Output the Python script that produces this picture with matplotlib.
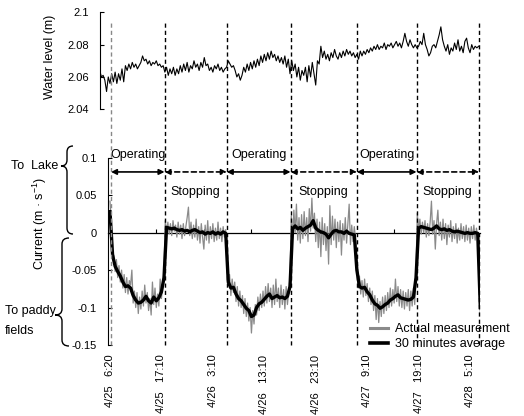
import numpy as np
import matplotlib
matplotlib.use('Agg')
import matplotlib.pyplot as plt
from matplotlib.path import Path
from matplotlib.patches import PathPatch
from matplotlib.lines import Line2D
from matplotlib.transforms import blended_transform_factory
from matplotlib.ticker import FormatStrFormatter

plt.rcParams['font.family'] = ['Liberation Sans', 'DejaVu Sans']
plt.rcParams['mathtext.fontset'] = 'custom'
plt.rcParams['mathtext.rm'] = 'Liberation Sans'

# water level (m), every 20 min from 2 h before 4/25 6:20
level = [
    2.064, 2.060, 2.061, 2.058, 2.051, 2.060, 2.056, 2.062, 2.057, 2.063, 2.056, 2.062,
    2.058, 2.065, 2.057, 2.067, 2.064, 2.068, 2.065, 2.069, 2.066, 2.068, 2.065, 2.067,
    2.069, 2.073, 2.070, 2.071, 2.068, 2.070, 2.067, 2.069, 2.068, 2.070, 2.067, 2.068,
    2.066, 2.067, 2.063, 2.066, 2.061, 2.065, 2.062, 2.066, 2.061, 2.065, 2.062, 2.067,
    2.063, 2.068, 2.064, 2.069, 2.063, 2.067, 2.065, 2.070, 2.066, 2.068, 2.064, 2.069,
    2.066, 2.072, 2.067, 2.068, 2.064, 2.066, 2.063, 2.067, 2.065, 2.068, 2.064, 2.066,
    2.063, 2.065, 2.066, 2.070, 2.068, 2.066, 2.067, 2.064, 2.060, 2.062, 2.058, 2.061,
    2.066, 2.063, 2.068, 2.064, 2.069, 2.065, 2.070, 2.066, 2.071, 2.067, 2.073, 2.069,
    2.074, 2.070, 2.075, 2.071, 2.076, 2.072, 2.074, 2.070, 2.073, 2.069, 2.072, 2.068,
    2.073, 2.066, 2.071, 2.062, 2.070, 2.064, 2.068, 2.060, 2.066, 2.058, 2.064, 2.061,
    2.066, 2.057, 2.067, 2.060, 2.069, 2.062, 2.055, 2.070, 2.068, 2.079, 2.072, 2.076,
    2.071, 2.074, 2.070, 2.075, 2.072, 2.077, 2.073, 2.071, 2.075, 2.072, 2.076, 2.073,
    2.077, 2.074, 2.076, 2.073, 2.075, 2.072, 2.074, 2.071, 2.076, 2.073, 2.076, 2.074,
    2.077, 2.075, 2.078, 2.076, 2.079, 2.077, 2.080, 2.077, 2.079, 2.078, 2.081, 2.077,
    2.080, 2.079, 2.081, 2.078, 2.080, 2.082, 2.079, 2.081, 2.078, 2.082, 2.087, 2.082,
    2.079, 2.083, 2.080, 2.078, 2.080, 2.078, 2.079, 2.082, 2.080, 2.087, 2.080, 2.077,
    2.073, 2.075, 2.079, 2.080, 2.078, 2.082, 2.086, 2.091, 2.083, 2.079, 2.076, 2.080,
    2.074, 2.078, 2.076, 2.081, 2.077, 2.083, 2.076, 2.079, 2.075, 2.082, 2.084, 2.078,
    2.075, 2.080, 2.077, 2.079, 2.078, 2.079,
]

# current (m/s), actual measurement every 15 min from 4/25 6:20
current = [
    # operating
    0.042, 0.010, -0.036, -0.030, -0.052, -0.036, -0.060, -0.044, -0.066, -0.050, -0.074, -0.056,
    -0.080, -0.060, -0.082, -0.064, -0.070, -0.050, -0.094, -0.078, -0.100, -0.080, -0.108, -0.086,
    -0.102, -0.078, -0.098, -0.070, -0.094, -0.080, -0.104, -0.088, -0.110, -0.066, -0.096, -0.074,
    -0.100, -0.082, -0.098, -0.062, -0.088, -0.070, -0.052,
    # stopping
    0.016, 0.000, 0.014, -0.002, 0.012, -0.004, 0.016, 0.002, 0.010, -0.006, 0.014, -0.002,
    0.010, -0.008, 0.012, -0.004, 0.008, 0.020, 0.034, -0.004, 0.014, -0.008, 0.010, -0.006,
    0.018, -0.010, 0.008, -0.014, 0.012, -0.006, -0.022, 0.010, -0.010, 0.016, -0.014, 0.008,
    -0.008, 0.012, -0.012, 0.006, -0.010, 0.014, -0.008, 0.006, -0.012, 0.008, -0.006, 0.004,
    # operating
    -0.050, -0.070, -0.056, -0.084, -0.062, -0.080, -0.066, -0.092, -0.072, -0.098, -0.078, -0.100,
    -0.084, -0.108, -0.088, -0.112, -0.094, -0.118, -0.100, -0.134, -0.104, -0.122, -0.096, -0.110,
    -0.086, -0.104, -0.082, -0.100, -0.078, -0.098, -0.072, -0.094, -0.068, -0.092, -0.074, -0.100,
    -0.070, -0.096, -0.062, -0.092, -0.074, -0.100, -0.070, -0.096, -0.076, -0.102, -0.072, -0.096,
    -0.078, -0.060,
    # stopping
    0.022, -0.008, 0.030, 0.000, 0.038, -0.010, 0.020, -0.014, 0.024, -0.008, 0.028, -0.004,
    0.020, -0.012, 0.032, 0.002, 0.046, 0.006, 0.026, -0.012, 0.018, -0.020, 0.014, -0.032,
    0.020, -0.016, 0.012, -0.024, 0.008, -0.042, 0.036, -0.016, 0.022, -0.010, 0.018, -0.020,
    0.014, -0.012, 0.016, -0.030, 0.012, -0.010, 0.020, -0.014, 0.012, 0.038, -0.016, 0.010,
    -0.012, 0.008, -0.010,
    # operating
    -0.036, -0.074, -0.058, -0.082, -0.064, -0.086, -0.062, -0.084, -0.068, -0.092, -0.074, -0.096,
    -0.078, -0.104, -0.084, -0.116, -0.088, -0.120, -0.092, -0.112, -0.086, -0.108, -0.084, -0.104,
    -0.080, -0.100, -0.074, -0.098, -0.076, -0.094, -0.062, -0.092, -0.072, -0.098, -0.076, -0.100,
    -0.078, -0.102, -0.080, -0.098, -0.076, -0.104, -0.078, -0.098, -0.074, -0.096, -0.050,
    # stopping
    0.026, 0.002, 0.018, -0.002, 0.014, 0.000, 0.016, -0.006, 0.012, -0.004, 0.014, 0.042,
    -0.002, 0.016, -0.022, 0.012, 0.030, -0.004, 0.014, -0.010, 0.018, -0.008, 0.012, -0.016,
    0.010, -0.006, 0.016, -0.012, 0.008, -0.008, 0.012, -0.014, 0.006, -0.010, 0.012, -0.008,
    0.008, -0.012, 0.010, -0.010, 0.006, -0.014, 0.008, -0.008, 0.010, -0.010, 0.006, -0.006,
    -0.030,
    # operating
    -0.108,
]

# 30 minutes average (m/s), every 30 min from 4/25 6:20
current_avg = [
    0.028, -0.030, -0.045, -0.052, -0.058, -0.066, -0.072, -0.071, -0.074, -0.084, -0.090, -0.094,
    -0.093, -0.090, -0.085, -0.091, -0.094, -0.086, -0.091, -0.087, -0.079, -0.060,
    0.007, 0.006, 0.005, 0.006, 0.004, 0.003, 0.004, 0.002, 0.003, 0.001, 0.003, 0.004,
    0.002, 0.000, 0.001, -0.002, 0.000, -0.001, 0.001, -0.002, 0.000, -0.002, 0.001, -0.001,
    -0.066, -0.074, -0.073, -0.082, -0.088, -0.091, -0.096, -0.101, -0.104, -0.112, -0.110, -0.100,
    -0.095, -0.093, -0.089, -0.085, -0.082, -0.088, -0.086, -0.084, -0.087, -0.086, -0.088, -0.085,
    -0.072,
    0.005, 0.009, 0.005, 0.007, 0.003, 0.006, 0.008, 0.010, 0.016, 0.006, 0.003, 0.001,
    0.000, -0.002, -0.007, -0.002, 0.002, 0.003, 0.001, 0.001, -0.001, 0.002, -0.001, -0.002,
    -0.003,
    -0.050, -0.072, -0.074, -0.073, -0.079, -0.083, -0.090, -0.095, -0.097, -0.101, -0.099, -0.096,
    -0.094, -0.090, -0.088, -0.085, -0.083, -0.087, -0.088, -0.089, -0.090, -0.089, -0.086, -0.060,
    0.006, 0.008, 0.007, 0.006, 0.005, 0.004, 0.006, 0.009, 0.005, 0.004, 0.005, 0.003,
    0.004, 0.002, 0.001, 0.002, 0.001, 0.000, -0.001, 0.000, -0.001, -0.001, 0.000, -0.001,
    -0.100,
]

# gate switching times (hours after 4/25 6:20)
gate_times = [0.2, 10.6, 22.7, 35.1, 48.0, 59.6, 71.75]
gate_states = ['Operating', 'Stopping', 'Operating', 'Stopping', 'Operating', 'Stopping']

x_ticks = [0, 10, 20, 30, 40, 50, 60, 70]
x_labels = ['4/25   6:20', '4/25   17:10', '4/26   3:10', '4/26   13:10',
            '4/26   23:10', '4/27   9:10', '4/27   19:10', '4/28   5:10']
zero_ticks = [8.9, 18.2, 27.4, 36.7, 45.9, 55.2, 64.4]

t_level = np.arange(len(level)) / 3 - 2
t_cur = np.arange(len(current)) / 4
t_avg = np.arange(len(current_avg)) / 2

W, H = 524, 416
fig = plt.figure(figsize=(W / 100, H / 100), dpi=100)

# upper: water level
ax1 = fig.add_axes([99.7 / W, 1 - 109.3 / H, 380.6 / W, 97 / H])
ax1.plot(t_level, level, color='black', lw=0.8)
ax1.set_xlim(-2.0, 72.0)
ax1.set_ylim(2.04, 2.1)
ax1.set_yticks([2.04, 2.06, 2.08, 2.1])
ax1.yaxis.set_major_formatter(FormatStrFormatter('%g'))
ax1.set_xticks([])
for s in ['top', 'right', 'bottom']:
    ax1.spines[s].set_visible(False)
ax1.tick_params(axis='y', direction='in', length=3, labelsize=8, pad=8)
fig.text(50 / W, 1 - 57 / H, 'Water level (m)', rotation=90, ha='center', va='center', fontsize=9)

# lower: current
ax2 = fig.add_axes([108 / W, 1 - 345 / H, 372.3 / W, 187.3 / H])
l_act, = ax2.plot(t_cur, current, color='#8a8a8a', lw=0.9)
l_avg, = ax2.plot(t_avg, current_avg, color='black', lw=2.4)
ax2.set_xlim(-0.39, 72.0)
ax2.set_ylim(-0.15, 0.1)
ax2.set_yticks([-0.15, -0.1, -0.05, 0, 0.05, 0.1])
ax2.yaxis.set_major_formatter(FormatStrFormatter('%g'))
ax2.set_xticks(x_ticks)
ax2.set_xticklabels(x_labels, rotation=90, va='top', ha='center')
for s in ['top', 'right', 'bottom']:
    ax2.spines[s].set_visible(False)
ax2.tick_params(axis='y', direction='in', length=3, labelsize=8, pad=8)
ax2.tick_params(axis='x', length=0, labelsize=8, pad=7)

zax = ax2.secondary_xaxis(0.6)
zax.set_xticks(zero_ticks)
zax.tick_params(direction='out', length=3, labeltop=False, labelbottom=False)
for s in zax.spines.values():
    s.set_linewidth(0.9)

fig.text(40 / W, 1 - 224 / H, 'Current (m · s$^{\\mathrm{-1}}$)', rotation=90,
         ha='center', va='center', fontsize=9)

# gate periods
for i, state in enumerate(gate_states):
    t0, t1 = gate_times[i], gate_times[i + 1]
    ls = '-' if state == 'Operating' else (0, (3, 2))
    ax2.annotate('', xy=(t1, 0.081), xytext=(t0, 0.081),
                 arrowprops=dict(arrowstyle='<|-|>', color='black', lw=1.2, linestyle=ls,
                                 shrinkA=0, shrinkB=0, mutation_scale=8),
                 annotation_clip=False)
    ty = 0.103 if state == 'Operating' else 0.054
    ax2.text((t0 + t1) / 2, ty, state, ha='center', va='center', fontsize=9, clip_on=False)

trans = blended_transform_factory(ax2.transData, fig.transFigure)
for i, g in enumerate(gate_times):
    c = '#888888' if i == 0 else 'black'
    fig.add_artist(Line2D([g, g], [1 - 345 / H, 1 - 21 / H], transform=trans, color=c,
                          lw=1.0, linestyle=(0, (3, 2.2))))

leg = fig.legend([l_act, l_avg], ['Actual measurement', '30 minutes average'],
                 loc='center left', bbox_to_anchor=(370 / W, 1 - 336.5 / H), frameon=False,
                 borderpad=0, borderaxespad=0, handlelength=1.4, handletextpad=0.6,
                 labelspacing=0.25, fontsize=9)
for ln, w in zip(leg.get_lines(), [2.2, 2.6]):
    ln.set_linewidth(w)


def brace(x, top, tip, bot, w, r=6):
    pts = [(x + w, top), (x, top), (x, top + r), (x, tip - r), (x, tip), (x - w, tip),
           (x, tip), (x, tip + r), (x, bot - r), (x, bot), (x + w, bot)]
    codes = [Path.MOVETO, Path.CURVE3, Path.CURVE3, Path.LINETO, Path.CURVE3, Path.CURVE3,
             Path.CURVE3, Path.CURVE3, Path.LINETO, Path.CURVE3, Path.CURVE3]
    pts = [(px / W, 1 - py / H) for px, py in pts]
    fig.add_artist(PathPatch(Path(pts, codes), transform=fig.transFigure, fill=False,
                             lw=1.0, color='black'))


brace(67, 146, 166, 234, 6)
brace(62, 238, 315, 346, 7)
fig.text(58 / W, 1 - 166 / H, 'To  Lake', ha='right', va='center', fontsize=9)
fig.text(5 / W, 1 - 321 / H, 'To paddy\nfields', ha='left', va='center', fontsize=9,
         linespacing=1.9)

fig.savefig('out.png', dpi=100)
